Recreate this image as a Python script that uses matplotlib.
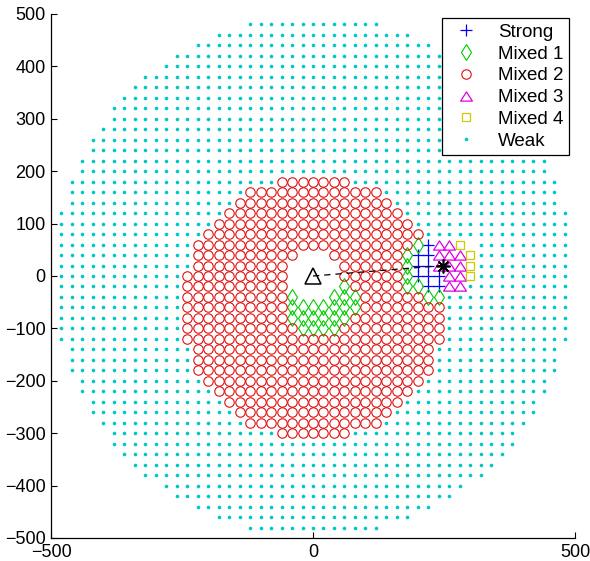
import matplotlib
matplotlib.use('Agg')
import matplotlib.pyplot as plt
from matplotlib.path import Path

plt.rcParams['font.family'] = ['Liberation Sans', 'DejaVu Sans']

STEP = 20

# Weak (outer) region: for each |y| the largest |x| of the grid rows
weak_abs_y = [0, 20, 40, 60, 80, 100, 120, 140, 160, 180, 200, 220, 240,
              260, 280, 300, 320, 340, 360, 380, 400, 420, 440, 460, 480]
weak_half = [480, 480, 480, 480, 480, 480, 480, 460, 460, 460, 440, 440, 420,
             420, 400, 380, 380, 360, 340, 320, 280, 260, 220, 180, 120]

# Mixed 2 (inner) region: rows and their half-widths
red_y = [180, 160, 140, 120, 100, 80, 60, 40, 20, 0, -20, -40, -60, -80, -100,
         -120, -140, -160, -180, -200, -220, -240, -260, -280, -300]
red_half = [60, 120, 140, 160, 180, 200, 220, 220, 220, 240, 240, 240, 240, 240,
            240, 240, 220, 220, 220, 200, 180, 160, 140, 120, 60]

# empty cells around the centre
hole_x = [-20, 0, 20, -40, -20, 0, 20, 40, -40, -20, 0, 20, 40, -40, -20, 0, 20, 40, -20, 0, 20]
hole_y = [40, 40, 40, 20, 20, 20, 20, 20, 0, 0, 0, 0, 0, -20, -20, -20, -20, -20, -40, -40, -40]

strong_x = [220, 200, 220, 200, 220, 200, 220, 240, 220, 240]
strong_y = [60, 40, 40, 20, 20, 0, 0, 0, -20, -20]

mixed1_x = [60, -40, 40, 60, 80, -40, -20, 0, 20, 40, 60, 80, -40, -20, 0, 20, 40, 60,
            -20, 0, 20, 40, 200, 180, 180, 180, 180, 200, 220, 240]
mixed1_y = [-20, -40, -40, -40, -40, -60, -60, -60, -60, -60, -60, -60, -80, -80, -80, -80, -80, -80,
            -100, -100, -100, -100, 60, 40, 20, 0, -20, -20, -40, -40]

mixed3_x = [240, 260, 240, 260, 280, 240, 260, 280, 260, 280, 260, 280]
mixed3_y = [60, 60, 40, 40, 40, 20, 20, 20, 0, 0, -20, -20]

mixed4_x = [280, 300, 300, 300]
mixed4_y = [60, 40, 20, 0]

gap_x = [300]
gap_y = [60]

bs_xy = (0, 0)          # triangle
ue_xy = (248, 20)       # asterisk

labels = ['Strong', 'Mixed 1', 'Mixed 2', 'Mixed 3', 'Mixed 4', 'Weak']


def rows_to_set(ys, halves):
    s = set()
    for y, h in zip(ys, halves):
        for x in range(-h, h + 1, STEP):
            s.add((x, y))
    return s


weak_all = rows_to_set(weak_abs_y, weak_half) | rows_to_set([-v for v in weak_abs_y], weak_half)
red_all = rows_to_set(red_y, red_half)
hole = set(zip(hole_x, hole_y))
strong = set(zip(strong_x, strong_y))
m1 = set(zip(mixed1_x, mixed1_y))
m3 = set(zip(mixed3_x, mixed3_y))
m4 = set(zip(mixed4_x, mixed4_y))
gap = set(zip(gap_x, gap_y))
others = strong | m1 | m3 | m4
red = sorted(red_all - hole - others)
weak = sorted(weak_all - red_all - others - gap)

fig = plt.figure(figsize=(5.90, 5.61), dpi=100)
ax = fig.add_axes([51 / 590, 23 / 561, 524 / 590, 524 / 561])

tri = Path([(0, 0.78), (-1, -0.78), (1, -0.78), (0, 0.78)],
           [Path.MOVETO, Path.LINETO, Path.LINETO, Path.CLOSEPOLY])

def xs(p):
    return [a for a, b in p]

def ys(p):
    return [b for a, b in p]

h1, = ax.plot(xs(sorted(strong)), ys(sorted(strong)), ls='none', marker='+', ms=8,
              mew=0.9, color='#0000ff')
h2, = ax.plot(xs(sorted(m1)), ys(sorted(m1)), ls='none', marker='d', ms=8.2,
              mew=0.8, mfc='none', color='#00cc00')
h3, = ax.plot(xs(red), ys(red), ls='none', marker='o', ms=6.8, mew=0.8,
              mfc='none', color='#e01010')
h4, = ax.plot(xs(sorted(m3)), ys(sorted(m3)), ls='none', marker=tri, ms=8.5,
              mew=0.9, mfc='none', color='#dd00dd')
h5, = ax.plot(xs(sorted(m4)), ys(sorted(m4)), ls='none', marker='s', ms=5.8,
              mew=0.9, mfc='none', color='#cccc00')
h6, = ax.plot(xs(weak), ys(weak), ls='none', marker='.', ms=3.2,
              color='#00c8c8')

ax.plot([bs_xy[0], ue_xy[0]], [bs_xy[1], ue_xy[1]], color='black', lw=0.9,
        ls=(0, (5, 4)))
ax.plot([bs_xy[0]], [bs_xy[1]], ls='none', marker='^', ms=11.5, mew=1.1,
        mfc='none', color='black')
ax.plot([ue_xy[0]], [ue_xy[1]], ls='none', marker=(8, 2, 0), ms=10, mew=1.2,
        color='black')

ax.set_xlim(-500, 500)
ax.set_ylim(-500, 500)
ax.set_xticks([-500, 0, 500])
ax.set_yticks(list(range(-500, 501, 100)))
ax.tick_params(direction='in', length=4, width=0.8, labelsize=13, colors='black')
ax.tick_params(axis='x', pad=4.5)
ax.tick_params(axis='y', pad=4)
for side in ['top', 'right']:
    ax.spines[side].set_visible(False)
for side in ['left', 'bottom']:
    ax.spines[side].set_linewidth(0.9)

leg = ax.legend([h1, h2, h3, h4, h5, h6], labels, loc='upper right',
                bbox_to_anchor=(0.9885, 0.9924), fontsize=13.5, fancybox=False,
                edgecolor='black', framealpha=1, borderpad=0.3,
                labelspacing=0.25, handlelength=2.0, handletextpad=0.7,
                borderaxespad=0)
leg.get_frame().set_linewidth(0.9)

fig.savefig('out.png', dpi=100)
